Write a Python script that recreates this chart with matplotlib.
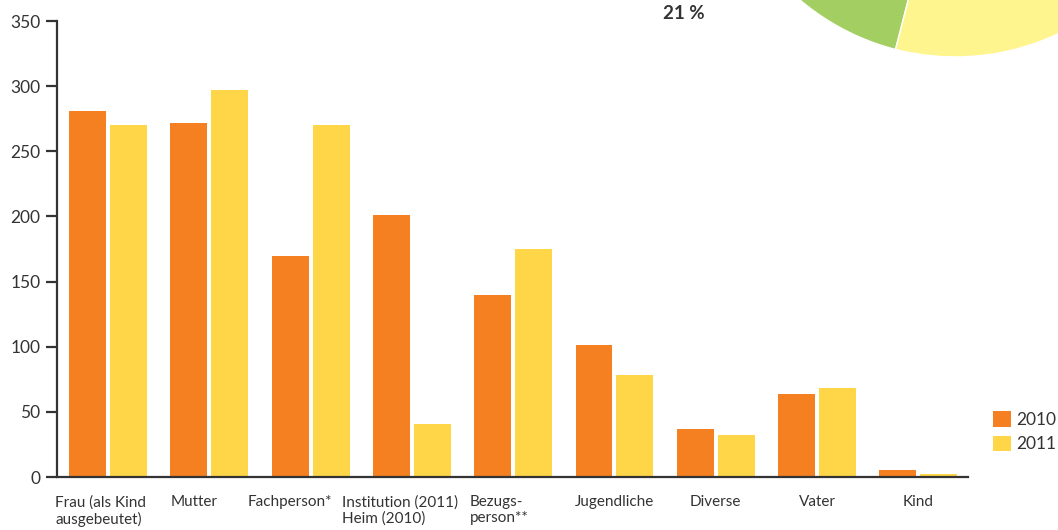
import numpy as np
import matplotlib
matplotlib.use("Agg")
import matplotlib.pyplot as plt

# categories and counts per year
categories = ["Frau (als Kind\nausgebeutet)", "Mutter", "Fachperson*",
              "Institution (2011)\nHeim (2010)", "Bezugs-\nperson**",
              "Jugendliche", "Diverse", "Vater", "Kind"]
values_2010 = [281, 272, 170, 201, 140, 101, 37, 64, 5]
values_2011 = [270, 297, 270, 41, 175, 78, 32, 68, 2]
years = ["2010", "2011"]

# shares of the cut-off pie in the corner
pie_shares = [21, 40, 39]
pie_label = "21 %"

orange = "#F58022"
yellow = "#FED648"
text_col = "#333333"

plt.rcParams["font.family"] = ["Lato", "DejaVu Sans"]

fig = plt.figure(figsize=(10.58, 5.30), dpi=100)

ax = fig.add_axes([57 / 1058, 1 - 477 / 530, (968 - 57) / 1058, (477 - 21) / 530])
ax.patch.set_visible(False)

# partial pie from the neighbouring chart, mostly outside the figure
pax = fig.add_axes([0.676, 0.8925, 0.4537, 0.9057], zorder=5)
pax.pie(pie_shares, colors=["#A3CF62", "#FFF58E", "#F5B040"], startangle=180,
        counterclock=True, radius=1.0,
        wedgeprops=dict(edgecolor="white", linewidth=1.0))
pax.set_xlim(-1, 1)
pax.set_ylim(-1, 1)
pax.set_aspect("equal")
pax.axis("off")
fig.text(0.646, 0.975, pie_label, ha="center", va="center", fontsize=13.5,
         fontweight="bold", color=text_col)

x = np.arange(len(categories))
w = 0.365
off = 0.202
ax.bar(x - off, values_2010, w, color=orange, label=years[0])
ax.bar(x + off, values_2011, w, color=yellow, label=years[1])

ax.set_xlim(-0.503, 8.49)
ax.set_ylim(0, 350)
ax.set_yticks(range(0, 351, 50))

# labels sit a bit left of the group centre for the first few groups
label_shift = [-0.07, -0.15, -0.2, -0.12, -0.14, 0, 0, 0, 0]
ax.set_xticks(x + np.array(label_shift))
ax.set_xticklabels(categories, fontsize=11, color=text_col, multialignment="left")
ax.tick_params(axis="x", length=0, pad=13)
ax.tick_params(axis="y", length=8, width=1.6, color=text_col, labelsize=12.5,
               labelcolor=text_col, pad=4)

for s in ["top", "right"]:
    ax.spines[s].set_visible(False)
for s in ["left", "bottom"]:
    ax.spines[s].set_color(text_col)
    ax.spines[s].set_linewidth(1.6)

leg = ax.legend(loc="upper left", bbox_to_anchor=(1.02, 0.16), frameon=False,
                fontsize=12.5, handlelength=1.0, handleheight=1.0,
                handletextpad=0.3, labelspacing=0.45, borderaxespad=0)
for t in leg.get_texts():
    t.set_color(text_col)

fig.savefig("out.png", dpi=100)
